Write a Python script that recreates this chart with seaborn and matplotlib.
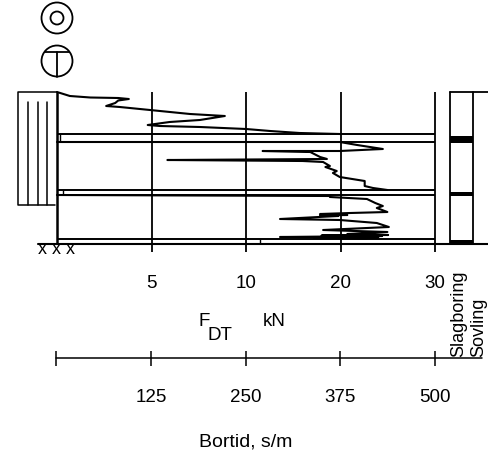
import matplotlib
matplotlib.use('Agg')
import matplotlib.pyplot as plt
from matplotlib.patches import Circle
import seaborn as sns

# borrmotstand, segments between the layer lines (bortid s/m, depth m)
time_1 = [0, 17, 44, 81, 95, 81, 77, 65, 83, 123, 176, 222, 189, 149, 120, 136, 189, 250, 282, 321, 374]
depth_1 = [0, 0.4, 0.55, 0.6, 0.7, 0.85, 1.1, 1.4, 1.5, 1.8, 2.2, 2.4, 2.8, 3.0, 3.3, 3.4, 3.5, 3.7, 3.9, 4.1, 4.2]
time_2 = [0, 374, 397, 431, 374, 272, 335, 348, 357, 146, 325, 352, 361, 355, 370, 365, 374, 407, 407, 418, 437]
depth_2 = [5.0, 5.0, 5.3, 5.7, 5.9, 5.9, 6.0, 6.5, 6.7, 6.8, 6.9, 7.0, 7.4, 7.5, 7.9, 8.1, 8.5, 8.9, 9.4, 9.6, 9.8]
time_3 = [0, 361, 361, 410, 421, 431, 423, 437, 388, 348, 384, 348, 372, 295, 374, 423, 439, 352, 437, 384, 438, 350, 430, 295, 425, 340, 410]
depth_3 = [10.3, 10.4, 10.5, 10.7, 11.1, 11.4, 11.6, 12, 12.1, 12.2, 12.3, 12.35, 12.4, 12.7, 12.8, 13.1, 13.5, 13.8, 14, 14.2, 14.3, 14.35, 14.4, 14.5, 14.55, 14.6, 14.65]

layer_top = [4.2, 9.8, 14.7]
layer_bottom = [5.0, 10.3, 15.2]
layer_mark = [4, 8, 268]

bortid_ticks = [0, 125, 250, 375, 500]
bortid_labels = ['', '125', '250', '375', '500']
force_labels = ['', '5', '10', '20', '30']

band_top = [4.4, 10.0, 14.8]
band_bottom = [5.1, 10.4, 15.2]

sns.set_theme(style='white')
plt.rcParams['font.family'] = ['Liberation Sans', 'DejaVu Sans']

fig = plt.figure(figsize=(4.88, 4.58), dpi=100)
W, H = 488, 458
ax = fig.add_axes([57 / W, 1 - 244 / H, (435 - 57) / W, (244 - 92) / H])
ax.set_xlim(0, 500)
ax.set_ylim(15.2, 0)
ax.axis('off')

# overlay in pixels for the hand drawn bits
top = fig.add_axes([0, 0, 1, 1], facecolor='none')
top.set_xlim(0, W)
top.set_ylim(H, 0)
top.axis('off')

for t, d in [(time_1, depth_1), (time_2, depth_2), (time_3, depth_3)]:
    sns.lineplot(x=t, y=d, sort=False, estimator=None, color='black', lw=1.5, ax=ax, clip_on=False)

ax.vlines(bortid_ticks[1:], 0, 16, color='black', lw=1.3, clip_on=False)
ax.vlines(0, 0, 15.2, color='black', lw=1.8, clip_on=False)
ax.hlines(layer_top + layer_bottom, 0, 500, color='black', lw=1.4, clip_on=False)
ax.vlines(layer_mark, layer_top, layer_bottom, color='black', lw=1.0, clip_on=False)

# bottom line and top of the right column
top.plot([38, 488], [244, 244], color='black', lw=1.5)
top.plot([450, 488], [92, 92], color='black', lw=1.3)
top.plot([450, 450], [92, 244], color='black', lw=1.3)
top.plot([473, 473], [92, 244], color='black', lw=1.3)
for a, b in zip(band_top, band_bottom):
    top.fill_between([450, 473], 92 + a * 10, 92 + b * 10, color='black', lw=0)

# left column
x0 = 18
top.plot([57, x0, x0, 55], [92, 92, 205, 205], color='black', lw=1.1)
for x in [28, 37.5, 47]:
    top.plot([x, x], [102, 205], color='black', lw=1.1)

# symbols
top.add_patch(Circle((57, 18), 15.5, fill=False, ec='black', lw=1.3))
top.add_patch(Circle((57, 18), 6.5, fill=False, ec='black', lw=1.3))
top.add_patch(Circle((57, 61), 15.5, fill=False, ec='black', lw=1.3))
top.plot([45, 69], [52, 52], color='black', lw=1.3)
top.plot([57, 57], [52, 77], color='black', lw=1.3)
for x in [42, 56, 70]:
    top.text(x, 250, 'x', ha='center', va='center', fontsize=13, color='black')

# scales
top.plot([56, 482], [358, 358], color='black', lw=1.1)
top.vlines([56, 151, 246, 340, 435], 351, 366, color='black', lw=1.1)
for v, f, b in zip(bortid_ticks, force_labels, bortid_labels):
    ax.text(v, 19.1, f, ha='center', va='center', fontsize=13.5, color='black', clip_on=False)
    ax.text(v, 30.5, b, ha='center', va='center', fontsize=13.5, color='black', clip_on=False)

top.text(204, 321, 'F', ha='center', va='center', fontsize=13.5, color='black')
top.text(220, 336, 'DT', ha='center', va='center', fontsize=13.5, color='black')
top.text(274, 321, 'kN', ha='center', va='center', fontsize=13.5, color='black')
top.text(246, 442, 'Bortid, s/m', ha='center', va='center', fontsize=14, color='black')
top.text(459, 357, 'Slagboring', rotation=90, ha='center', va='bottom', fontsize=13, color='black')
top.text(479, 357, 'Sovling', rotation=90, ha='center', va='bottom', fontsize=13, color='black')

fig.savefig('out.png', dpi=100)
